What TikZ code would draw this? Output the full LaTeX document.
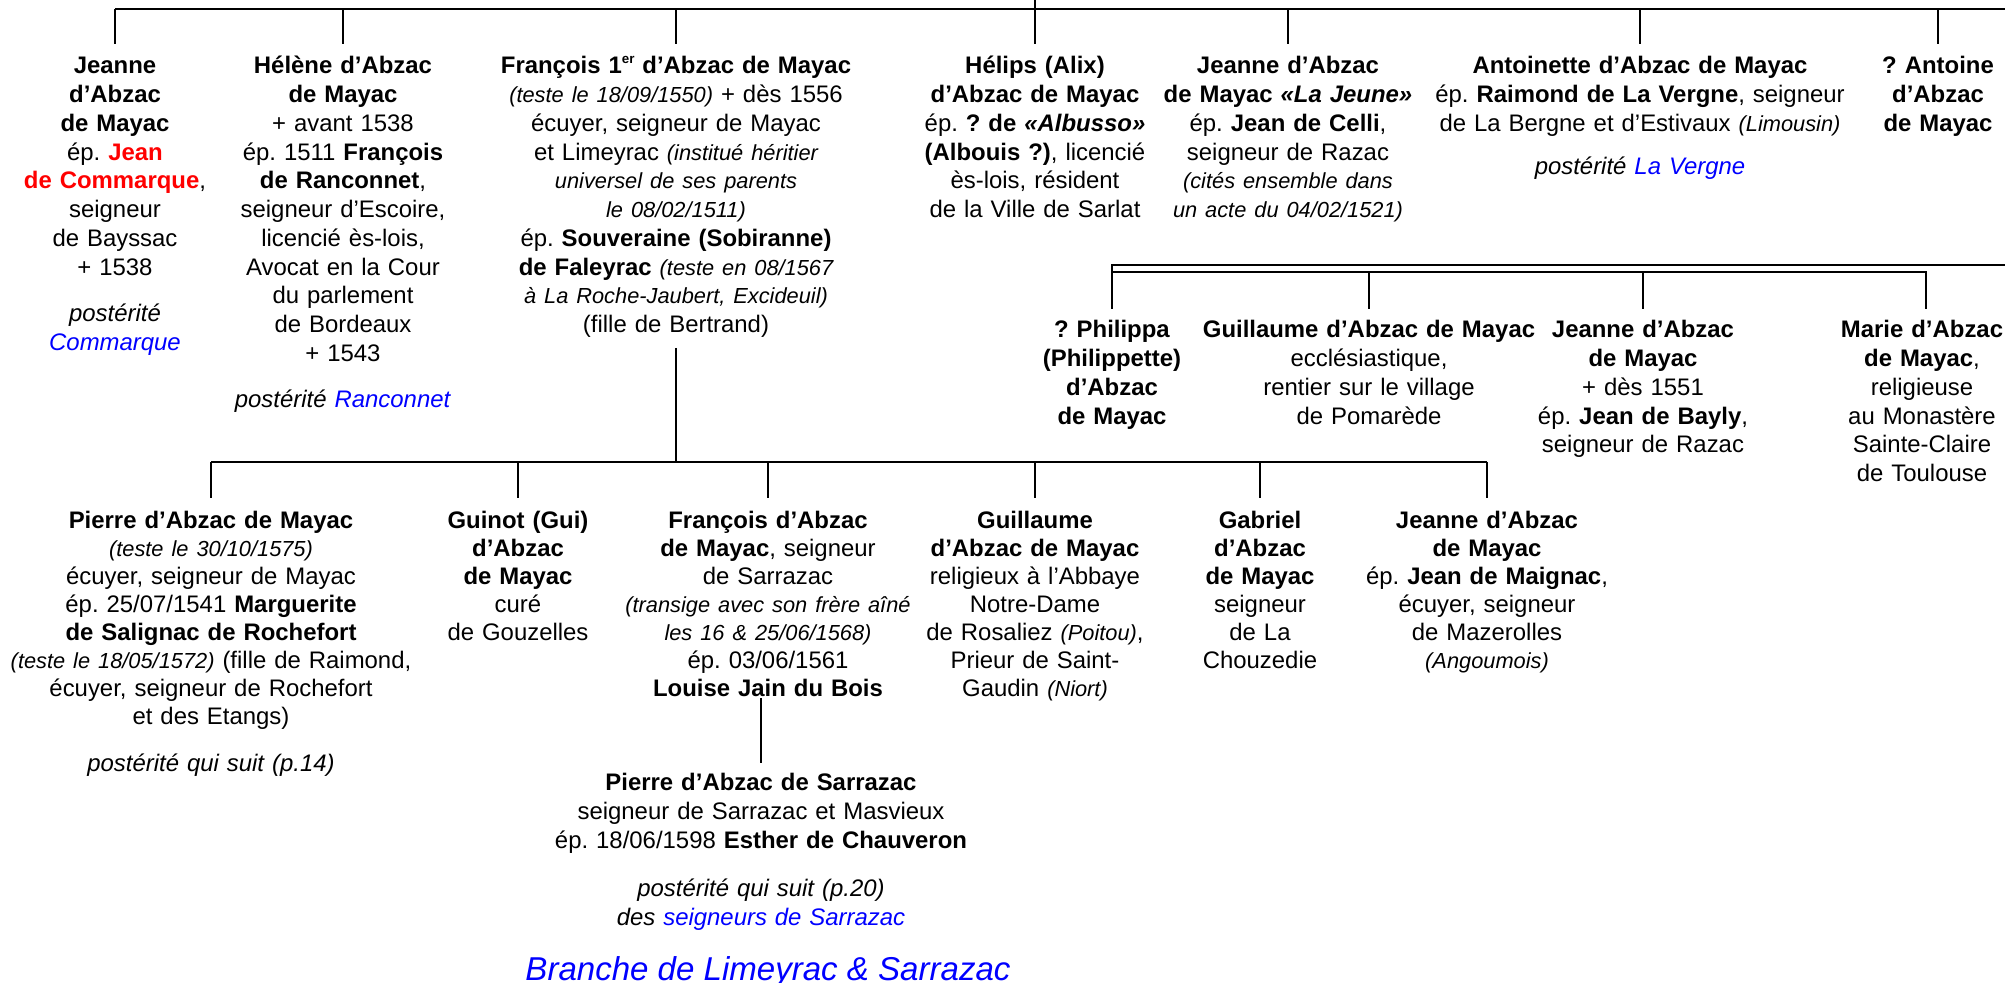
\documentclass[tikz,border=0pt]{standalone}
\usepackage{fontspec}
\setmainfont{Liberation Sans}
\usepackage{xcolor}
\usepackage{tikz}
\usetikzlibrary{positioning,calc}
\definecolor{LienBleu}{RGB}{0,0,255}
\definecolor{NomRouge}{RGB}{255,0,0}
\newcommand{\annot}[1]{{\fontsize{6.2}{8.17}\selectfont\itshape #1}}
\newcommand{\lien}[1]{\textcolor{LienBleu}{#1}}
\newcommand{\expo}[1]{\raisebox{0.45em}{\fontsize{3.8}{4}\selectfont #1}}
\frenchspacing

\begin{document}
\begin{tikzpicture}[x=0.01cm, y=-0.01cm,
    % Style pour une personne (ligne de base = premiere ligne)
    personnode/.style={
        text width=6cm, align=center, anchor=base, inner sep=0pt,
        font=\fontsize{6.8}{8.17}\selectfont
    },
    % Interligne un peu plus serre pour la derniere generation
    tightnode/.style={
        personnode, font=\fontsize{6.8}{7.95}\selectfont
    },
    % Style pour le titre de la branche
    branchlabel/.style={
        anchor=base, inner sep=0pt, text=LienBleu,
        font=\fontsize{9.4}{11}\selectfont\itshape
    },
    % Style des traits de filiation
    treeline/.style={line width=0.8pt, black},
    subline/.style={line width=0.55pt, black}
]
\useasboundingbox (0,0) rectangle (2005,983);
\clip (0,0) rectangle (2005,983);

% --- 1. Premiere ligne (freres et soeurs) ---
\node[personnode] (jeanne) at (115,74) {\textbf{Jeanne}\\ \textbf{d’Abzac}\\ \textbf{de Mayac}\\ ép. \textcolor{NomRouge}{\textbf{Jean}}\\ \textcolor{NomRouge}{\textbf{de Commarque}},\\ seigneur\\ de Bayssac\\ + 1538\\[5pt] \textit{postérité}\\ \lien{\textit{Commarque}}};
\node[personnode] (helene) at (343,74) {\textbf{Hélène d’Abzac}\\ \textbf{de Mayac}\\ + avant 1538\\ ép. 1511 \textbf{François}\\ \textbf{de Ranconnet},\\ seigneur d’Escoire,\\ licencié ès-lois,\\ Avocat en la Cour\\ du parlement\\ de Bordeaux\\ + 1543\\[5pt] \textit{postérité} \lien{\textit{Ranconnet}}};
\node[personnode] (francois) at (676,74) {\textbf{François 1\expo{er} d’Abzac de Mayac}\\ \annot{(teste le 18/09/1550)} + dès 1556\\ écuyer, seigneur de Mayac\\ et Limeyrac \annot{(institué héritier}\\ \annot{universel de ses parents}\\ \annot{le 08/02/1511)}\\ ép. \textbf{Souveraine (Sobiranne)}\\ \textbf{de Faleyrac} \annot{(teste en 08/1567}\\ \annot{à La Roche-Jaubert, Excideuil)}\\ (fille de Bertrand)};
\node[personnode] (helips) at (1035,74) {\textbf{Hélips (Alix)}\\ \textbf{d’Abzac de Mayac}\\ ép. \textbf{? de \textit{«Albusso»}}\\ \textbf{(Albouis ?)}, licencié\\ ès-lois, résident\\ de la Ville de Sarlat};
\node[personnode] (jeannej) at (1288,74) {\textbf{Jeanne d’Abzac}\\ \textbf{de Mayac \textit{«La Jeune»}}\\ ép. \textbf{Jean de Celli},\\ seigneur de Razac\\ \annot{(cités ensemble dans}\\ \annot{un acte du 04/02/1521)}};
\node[personnode] (antoinette) at (1640,74) {\textbf{Antoinette d’Abzac de Mayac}\\ ép. \textbf{Raimond de La Vergne}, seigneur\\ de La Bergne et d’Estivaux \annot{(Limousin)}\\[4pt] \textit{postérité} \lien{\textit{La Vergne}}};
\node[personnode] (antoine) at (1938,74) {\textbf{? Antoine}\\ \textbf{d’Abzac}\\ \textbf{de Mayac}};

% --- 2. Deuxieme groupe (a droite) ---
\node[personnode] (philippa) at (1112,338) {\textbf{? Philippa}\\ \textbf{(Philippette)}\\ \textbf{d’Abzac}\\ \textbf{de Mayac}};
\node[personnode] (guillaume) at (1369,338) {\textbf{Guillaume d’Abzac de Mayac}\\ ecclésiastique,\\ rentier sur le village\\ de Pomarède};
\node[personnode] (jeanneb) at (1643,338) {\textbf{Jeanne d’Abzac}\\ \textbf{de Mayac}\\ + dès 1551\\ ép. \textbf{Jean de Bayly},\\ seigneur de Razac};
\node[personnode] (marie) at (1922,338) {\textbf{Marie d’Abzac}\\ \textbf{de Mayac},\\ religieuse\\ au Monastère\\ Sainte-Claire\\ de Toulouse};

% --- 3. Enfants de François 1er ---
\node[tightnode] (pierre) at (211,529) {\textbf{Pierre d’Abzac de Mayac}\\ \annot{(teste le 30/10/1575)}\\ écuyer, seigneur de Mayac\\ ép. 25/07/1541 \textbf{Marguerite}\\ \textbf{de Salignac de Rochefort}\\ \annot{(teste le 18/05/1572)} (fille de Raimond,\\ écuyer, seigneur de Rochefort\\ et des Etangs)\\[5.5pt] \textit{postérité qui suit (p.14)}};
\node[tightnode] (guinot) at (518,529) {\textbf{Guinot (Gui)}\\ \textbf{d’Abzac}\\ \textbf{de Mayac}\\ curé\\ de Gouzelles};
\node[tightnode] (francoiss) at (768,529) {\textbf{François d’Abzac}\\ \textbf{de Mayac}, seigneur\\ de Sarrazac\\ \annot{(transige avec son frère aîné}\\ \annot{les 16 \& 25/06/1568)}\\ ép. 03/06/1561\\ \textbf{Louise Jain du Bois}};
\node[tightnode] (guillaumer) at (1035,529) {\textbf{Guillaume}\\ \textbf{d’Abzac de Mayac}\\ religieux à l’Abbaye\\ Notre-Dame\\ de Rosaliez \annot{(Poitou)},\\ Prieur de Saint-\\ Gaudin \annot{(Niort)}};
\node[tightnode] (gabriel) at (1260,529) {\textbf{Gabriel}\\ \textbf{d’Abzac}\\ \textbf{de Mayac}\\ seigneur\\ de La\\ Chouzedie};
\node[tightnode] (jeannem) at (1487,529) {\textbf{Jeanne d’Abzac}\\ \textbf{de Mayac}\\ ép. \textbf{Jean de Maignac},\\ écuyer, seigneur\\ de Mazerolles\\ \annot{(Angoumois)}};

% --- 4. Branche de Sarrazac ---
\node[personnode] (sarrazac) at (761,791) {\textbf{Pierre d’Abzac de Sarrazac}\\ seigneur de Sarrazac et Masvieux\\ ép. 18/06/1598 \textbf{Esther de Chauveron}\\[5.5pt] \textit{postérité qui suit (p.20)}\\ \textit{des \lien{seigneurs de Sarrazac}}};
\node[branchlabel] (branche) at (768,981) {Branche de Limeyrac \& Sarrazac};

% --- 5. Traits de filiation ---
\coordinate (bord) at (2005,0);
\coordinate (haut) at (1035,0);
\coordinate (barre1) at (0,9);
\coordinate (fin1) at (0,44);
\draw[treeline] (jeanne |- barre1) -- (bord |- barre1);
\foreach \p in {jeanne,helene,francois,jeannej,antoinette,antoine}
    \draw[treeline] (\p |- barre1) -- (\p |- fin1);
\draw[treeline] (haut) -- (helips |- fin1);

\coordinate (barre2a) at (0,265);
\coordinate (barre2) at (0,272);
\coordinate (fin2) at (0,309);
\coordinate (mariev) at (1926,0);
\draw[subline] (philippa |- fin2) -- (philippa |- barre2a) -- (bord |- barre2a);
\draw[treeline] (philippa |- barre2) -- (mariev |- barre2) -- (mariev |- fin2);
\foreach \p in {guillaume,jeanneb}
    \draw[subline] (\p |- barre2) -- (\p |- fin2);

\coordinate (barre3) at (0,462);
\coordinate (fin3) at (0,498);
\draw[treeline] (francois |- 0,348) -- (francois |- barre3);
\draw[treeline] (pierre |- barre3) -- (jeannem |- barre3);
\foreach \p in {pierre,guinot,francoiss,guillaumer,gabriel,jeannem}
    \draw[treeline] (\p |- barre3) -- (\p |- fin3);
\draw[subline] (sarrazac |- 0,698) -- (sarrazac |- 0,763);

\end{tikzpicture}
\end{document}
